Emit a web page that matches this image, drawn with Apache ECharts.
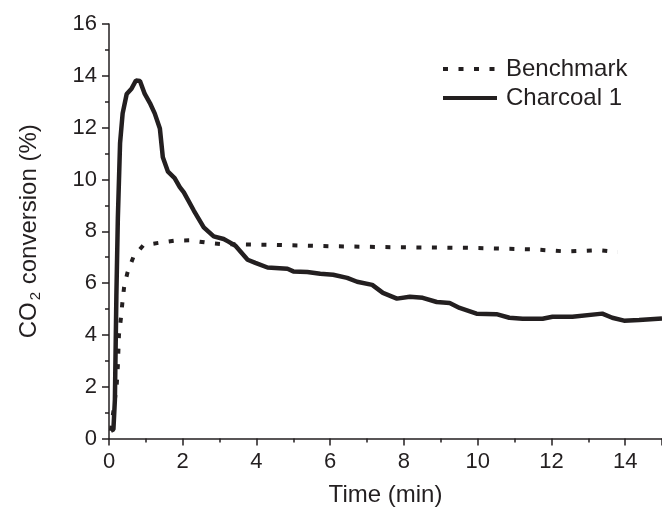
<!DOCTYPE html>
<html>
<head>
<meta charset="utf-8">
<script src="https://cdn.jsdelivr.net/npm/echarts@6/dist/echarts.min.js"></script>
<style>
    html, body { margin: 0; padding: 0; background: #fff; }
    #chart { width: 662px; height: 518px; }
</style>
</head>
<body>
<div id="chart"></div>
<script>
// Benchmark (dotted)
const benchTime = [0.05, 0.1, 0.16, 0.21, 0.24, 0.27, 0.32, 0.36, 0.41, 0.5, 0.66, 0.93, 1.38, 1.78, 2.2, 2.7, 3.1, 4.3, 6.1, 7.9, 9.7, 11.5, 12.4, 13.3, 13.8];
const benchConv = [0.3, 0.35, 1.5, 2.1, 2.8, 4.0, 4.6, 5.2, 5.85, 6.4, 7.0, 7.46, 7.56, 7.64, 7.65, 7.55, 7.5, 7.48, 7.42, 7.38, 7.36, 7.3, 7.22, 7.27, 7.2];

// Charcoal 1 (solid)
const charTime = [0.05, 0.12, 0.16, 0.2, 0.24, 0.3, 0.37, 0.48, 0.61, 0.73, 0.84, 0.97, 1.11, 1.24, 1.38, 1.46, 1.6, 1.78, 1.92, 2.03, 2.3, 2.57, 2.84, 3.11, 3.24, 3.43, 3.76, 3.97, 4.3, 4.84, 5.0, 5.38, 5.73, 6.08, 6.46, 6.73, 7.14, 7.43, 7.81, 8.16, 8.51, 8.89, 9.24, 9.51, 9.97, 10.51, 10.86, 11.22, 11.76, 12.03, 12.57, 13.38, 13.65, 13.97, 14.38, 15.0];
const charConv = [0.3, 0.35, 1.5, 5.5, 8.5, 11.4, 12.55, 13.3, 13.5, 13.82, 13.8, 13.3, 12.95, 12.55, 11.97, 10.86, 10.3, 10.05, 9.7, 9.5, 8.8, 8.15, 7.8, 7.7, 7.6, 7.44, 6.9, 6.78, 6.6, 6.55, 6.45, 6.43, 6.36, 6.32, 6.2, 6.05, 5.93, 5.62, 5.4, 5.47, 5.43, 5.27, 5.23, 5.04, 4.82, 4.8, 4.66, 4.62, 4.62, 4.7, 4.7, 4.82, 4.66, 4.55, 4.57, 4.63];

const ink = '#231f20';
const font = '"Liberation Sans", Arial, sans-serif';

const zip = (xs, ys) => xs.map((x, i) => [x, ys[i]]);

const chart = echarts.init(document.getElementById('chart'));

const axisCommon = {
    type: 'value',
    axisLine: { show: true, lineStyle: { color: ink, width: 1.5 } },
    axisTick: { show: true, inside: false, length: 7, lineStyle: { color: ink, width: 1.5 } },
    minorTick: { show: true, splitNumber: 2, length: 4, lineStyle: { color: ink, width: 1.5 } },
    splitLine: { show: false },
    axisLabel: { color: ink, fontSize: 22, fontFamily: font, margin: 12 }
};

chart.setOption({
    animation: false,
    backgroundColor: '#fff',
    grid: { left: 109, right: 0, top: 24, bottom: 79.5 },
    legend: {
        orient: 'vertical',
        left: 436,
        top: 52,
        itemWidth: 54,
        itemHeight: 14,
        itemGap: 5,
        data: ['Benchmark', 'Charcoal 1'],
        itemStyle: { opacity: 0 },
        lineStyle: { width: 4 },
        textStyle: { color: ink, fontSize: 24, fontFamily: font, padding: [0, 0, 0, 4] }
    },
    xAxis: Object.assign({}, axisCommon, {
        min: 0,
        max: 15,
        interval: 2,
        name: 'Time (min)',
        nameLocation: 'middle',
        nameGap: 45,
        nameTextStyle: { color: ink, fontSize: 24, fontFamily: font },
        axisLabel: Object.assign({}, axisCommon.axisLabel, { showMaxLabel: false })
    }),
    yAxis: Object.assign({}, axisCommon, {
        min: 0,
        max: 16,
        interval: 2,
        name: '{a|CO}{b|2}{a| conversion (%)}',
        nameLocation: 'middle',
        nameGap: 66,
        nameTextStyle: {
            color: ink,
            fontFamily: font,
            rich: {
                a: { fontSize: 24, color: ink, fontFamily: font, lineHeight: 28 },
                b: { fontSize: 15, color: ink, fontFamily: font, lineHeight: 28, padding: [12, 1, 0, 2], verticalAlign: 'bottom' }
            }
        }
    }),
    series: [
        {
            name: 'Benchmark',
            type: 'line',
            data: zip(benchTime, benchConv),
            showSymbol: false,
            symbol: 'none',
            lineStyle: { color: ink, width: 4, type: [5, 10.5] },
            itemStyle: { color: ink }
        },
        {
            name: 'Charcoal 1',
            type: 'line',
            data: zip(charTime, charConv),
            showSymbol: false,
            symbol: 'none',
            lineStyle: { color: ink, width: 4.5 },
            itemStyle: { color: ink }
        }
    ]
});
</script>
</body>
</html>
